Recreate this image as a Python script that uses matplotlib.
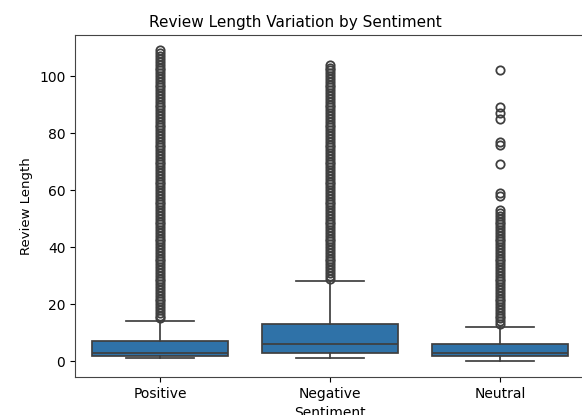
import matplotlib.pyplot as plt

categories = ["Positive", "Negative", "Neutral"]

# box statistics
q1 = [2, 3, 2]
med = [3, 6, 3]
q3 = [7, 13, 6]
whislo = [1, 1, 0]
whishi = [14, 28, 12]

# outliers (review lengths above the upper whisker)
fliers_pos = [15, 16, 17, 18, 19, 20, 21, 22, 23, 24, 25, 26, 27, 28, 29, 30,
              31, 32, 33, 34, 35, 36, 37, 38, 39, 40, 41, 42, 43, 44, 45, 46,
              47, 48, 49, 50, 51, 52, 53, 54, 55, 56, 57, 58, 59, 60, 61, 62,
              63, 64, 65, 66, 67, 68, 69, 70, 71, 72, 73, 74, 75, 76, 77, 78,
              79, 80, 81, 82, 83, 84, 85, 86, 87, 88, 89, 90, 91, 92, 93, 94,
              95, 96, 97, 98, 99, 100, 101, 102, 103, 104, 105, 106, 107, 108, 109]
fliers_neg = [29, 30, 31, 32, 33, 34, 35, 36, 37, 38, 39, 40, 41, 42, 43, 44,
              45, 46, 47, 48, 49, 50, 51, 52, 53, 54, 55, 56, 57, 58, 59, 60,
              61, 62, 63, 64, 65, 66, 67, 68, 69, 70, 71, 72, 73, 74, 75, 76,
              77, 78, 79, 80, 81, 82, 83, 84, 85, 86, 87, 88, 89, 90, 91, 92,
              93, 94, 95, 96, 97, 98, 99, 100, 101, 102, 103, 104]
fliers_neu = [13, 14, 15, 16, 17, 18, 19, 20, 21, 22, 23, 24, 25, 26, 27, 28,
              29, 30, 31, 32, 33, 34, 35, 36, 37, 38, 39, 40, 41, 42, 43, 44,
              45, 46, 47, 48, 49, 50, 51, 52, 53, 58, 59, 69, 76, 77, 85, 87,
              89, 102]
fliers = [fliers_pos, fliers_neg, fliers_neu]

stats = []
for i in range(len(categories)):
    stats.append({"label": categories[i], "q1": q1[i], "med": med[i], "q3": q3[i],
                  "whislo": whislo[i], "whishi": whishi[i], "fliers": fliers[i]})

line_col = "#3f3f3f"
fig = plt.figure(figsize=(5.82, 4.15), dpi=100)
ax = fig.add_axes([0.129, 0.092, 0.876, 0.824])
ax.bxp(stats, positions=range(len(categories)), widths=0.8, patch_artist=True,
       boxprops=dict(facecolor="#2f72a8", edgecolor=line_col, linewidth=1.25),
       medianprops=dict(color=line_col, linewidth=1.25),
       whiskerprops=dict(color=line_col, linewidth=1.25),
       capprops=dict(color=line_col, linewidth=1.25),
       flierprops=dict(marker="o", markerfacecolor="none", markeredgecolor=line_col,
                       markersize=6, markeredgewidth=1.3),
       capwidths=0.4)
ax.set_xlim(-0.5, 2.5)
ax.set_ylim(-5.45, 114.45)
ax.set_xticks(range(len(categories)))
ax.set_xticklabels(categories)
for s in ax.spines.values():
    s.set_color("#444444")
ax.set_xlabel("Sentiment")
ax.set_ylabel("Review Length", fontsize=9.5)
ax.set_title("Review Length Variation by Sentiment", fontsize=11, x=0.433)
fig.savefig("out.png", dpi=100)
